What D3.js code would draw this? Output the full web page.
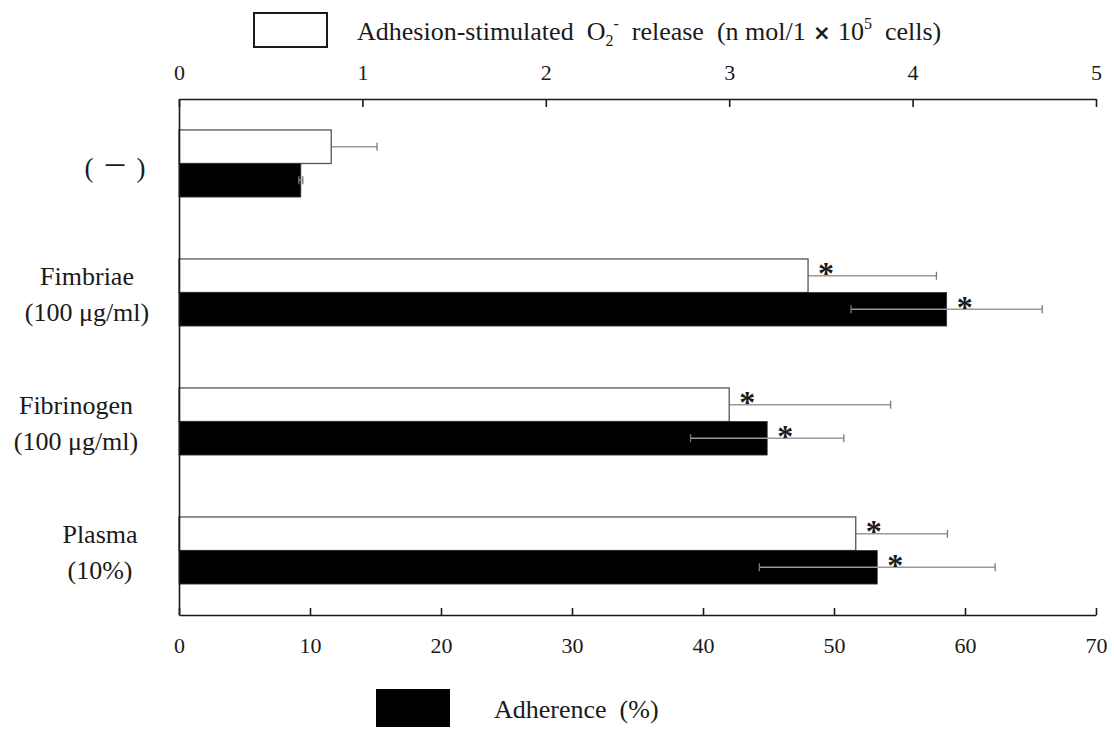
<!DOCTYPE html>
<html>
<head>
<meta charset="utf-8">
<script src="https://cdn.jsdelivr.net/npm/d3@7/dist/d3.min.js"></script>
<style>
  html, body { margin: 0; padding: 0; background: #fff; }
  svg { display: block; }
  text { font-family: "Liberation Serif", "Times New Roman", serif; fill: #1a1a1a; }
</style>
</head>
<body>
<svg id="chart" width="1114" height="731"></svg>
<script>
// ---- data ----
const categories = ["(−)", "Fimbriae", "Fibrinogen", "Plasma"];
const categoryLines = [["(", "－", ")"], ["Fimbriae", "(100 μg/ml)"], ["Fibrinogen", "(100 μg/ml)"], ["Plasma", "(10%)"]];
const o2Release = [0.83, 3.43, 3.00, 3.69];      // nmol / 1x10^5 cells
const o2ReleaseSD = [0.25, 0.70, 0.88, 0.50];
const adherence = [9.3, 58.6, 44.9, 53.3];        // %
const adherenceSD = [0.15, 7.3, 5.85, 9.0];
const significant = [false, true, true, true];
const topTicks = [0, 1, 2, 3, 4, 5];
const bottomTicks = [0, 10, 20, 30, 40, 50, 60, 70];

// ---- layout ----
const W = 1114, H = 731;
const plot = { left: 179, right: 1096, top: 99, bottom: 615 };
// horizontal centre of each category label block
const labelCenterX = [115, 87, 76, 100];

const svg = d3.select("#chart");
svg.append("rect").attr("width", W).attr("height", H).attr("fill", "#fff");

const xTop = d3.scaleLinear().domain([0, 5]).range([plot.left, plot.right]);
const xBottom = d3.scaleLinear().domain([0, 70]).range([plot.left, plot.right]);
const y = d3.scaleBand().domain(categories).range([plot.top, plot.bottom])
  .paddingInner(0.48).paddingOuter(0.24);
const ySub = d3.scaleBand().domain(["o2", "adh"]).range([0, y.bandwidth()]);

const rows = categories.map((c, i) => ({
  cat: c, i,
  o2: o2Release[i], o2sd: o2ReleaseSD[i],
  adh: adherence[i], adhsd: adherenceSD[i],
  sig: significant[i]
}));

const errColor = "#9a9a9a";
const capColor = "#7a7a7a";
const capH = 8;

function errorBar(g, xl, xr, yc) {
  g.append("line").attr("x1", xl).attr("x2", xr).attr("y1", yc).attr("y2", yc)
    .attr("stroke", errColor).attr("stroke-width", 1.6);
  [xl, xr].forEach(xx => g.append("line")
    .attr("x1", xx).attr("x2", xx).attr("y1", yc - capH / 2).attr("y2", yc + capH / 2)
    .attr("stroke", capColor).attr("stroke-width", 1.3));
}

function star(g, x, yTop) {
  g.append("text").attr("x", x).attr("y", yTop + 25)
    .attr("text-anchor", "middle").attr("font-size", 32).attr("font-weight", "bold")
    .text("*");
}

const marks = svg.append("g");
rows.forEach(d => {
  const g = marks.append("g");
  const yW = y(d.cat) + ySub("o2");
  const yB = y(d.cat) + ySub("adh");
  const h = ySub.bandwidth();

  // O2- release: error bar beneath the open bar
  errorBar(g, xTop(d.o2 - d.o2sd), xTop(d.o2 + d.o2sd), yW + h / 2);
  g.append("rect")
    .attr("x", xTop(0)).attr("y", yW)
    .attr("width", xTop(d.o2) - xTop(0)).attr("height", h)
    .attr("fill", "#fff").attr("stroke", "#555").attr("stroke-width", 1.3);

  // Adherence: solid bar with error bar on top
  g.append("rect")
    .attr("x", xBottom(0)).attr("y", yB)
    .attr("width", xBottom(d.adh) - xBottom(0)).attr("height", h)
    .attr("fill", "#000").attr("stroke", "#333").attr("stroke-width", 0.8);
  errorBar(g, xBottom(d.adh - d.adhsd), xBottom(d.adh + d.adhsd), yB + h / 2);

  if (d.sig) {
    star(g, xTop(d.o2) + 18, yW);
    star(g, xBottom(d.adh) + 18, yB);
  }
});

// ---- axes ----
const axisTop = svg.append("g").attr("transform", `translate(0,${plot.top})`)
  .call(d3.axisTop(xTop).tickValues(topTicks).tickFormat(d3.format("d"))
    .tickSizeInner(-8).tickSizeOuter(0).tickPadding(19));
const axisBottom = svg.append("g").attr("transform", `translate(0,${plot.bottom})`)
  .call(d3.axisBottom(xBottom).tickValues(bottomTicks).tickFormat(d3.format("d"))
    .tickSizeInner(-7).tickSizeOuter(0).tickPadding(22));
const axisLeft = svg.append("g").attr("transform", `translate(${plot.left},0)`)
  .call(d3.axisLeft(y).tickValues([]).tickSizeOuter(0));

[axisTop, axisBottom, axisLeft].forEach(a => {
  a.selectAll("path, line").attr("stroke", "#1a1a1a").attr("stroke-width", 1.6);
  a.selectAll("text").style("font-family", "'Liberation Serif', 'Times New Roman', serif")
    .attr("font-size", 22).attr("fill", "#1a1a1a");
});

// ---- category labels ----
rows.forEach(d => {
  const lines = categoryLines[d.i];
  const yc = y(d.cat) + y.bandwidth() / 2;
  const cx = labelCenterX[d.i];
  if (lines.length === 3) {
    // "( － )" drawn as three pieces so the dash keeps its full width
    const t = svg.append("text").attr("text-anchor", "middle").attr("font-size", 27).attr("y", yc + 13);
    t.append("tspan").attr("x", cx - 26).text(lines[0]);
    t.append("tspan").attr("x", cx).style("font-family", "'Noto Sans CJK JP', sans-serif")
      .attr("font-size", 26).attr("dy", -2).text(lines[1]);
    t.append("tspan").attr("x", cx + 26).attr("dy", 2).text(lines[2]);
  } else {
    const t = svg.append("text").attr("text-anchor", "middle").attr("font-size", 26);
    t.append("tspan").attr("x", cx).attr("y", yc - 8).text(lines[0]);
    t.append("tspan").attr("x", cx).attr("y", yc + 28).text(lines[1]);
  }
});

// ---- legends ----
const legTop = svg.append("g");
legTop.append("rect").attr("x", 254).attr("y", 13).attr("width", 73).attr("height", 34)
  .attr("fill", "#fff").attr("stroke", "#1a1a1a").attr("stroke-width", 2);
const lt = legTop.append("text").attr("x", 357).attr("y", 40).attr("font-size", 26)
  .style("white-space", "pre");
lt.append("tspan").text("Adhesion-stimulated  O");
lt.append("tspan").attr("font-size", 16).attr("dy", 6).text("2");
lt.append("tspan").attr("font-size", 16).attr("dy", -17).text("-");
lt.append("tspan").attr("dy", 11).text("  release  (n mol/1");
lt.append("tspan").style("font-family", "'DejaVu Sans', sans-serif").attr("font-size", 21).attr("font-weight", "bold").text(" × ");
lt.append("tspan").text("10");
lt.append("tspan").attr("font-size", 16).attr("dy", -11).text("5");
lt.append("tspan").attr("dy", 11).text("  cells)");

const legBot = svg.append("g");
legBot.append("rect").attr("x", 376).attr("y", 689).attr("width", 74).attr("height", 38)
  .attr("fill", "#000");
legBot.append("text").attr("x", 494).attr("y", 718).attr("font-size", 26)
  .style("white-space", "pre").text("Adherence  (%)");
</script>
</body>
</html>
